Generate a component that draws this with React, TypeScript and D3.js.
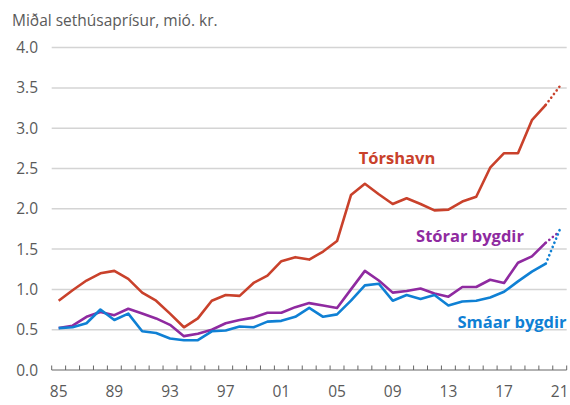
import * as d3 from 'd3';
import React from 'react';

// Miðal sethúsaprísur (mió. kr.), 1985-2021; 2021 is a projection (dotted)
const years = d3.range(1985, 2022);
const torshavn = [0.86, 0.99, 1.11, 1.20, 1.23, 1.13, 0.96, 0.86, 0.70, 0.53, 0.64, 0.86,
  0.93, 0.92, 1.08, 1.17, 1.35, 1.40, 1.37, 1.47, 1.60, 2.17, 2.31, 2.18, 2.06, 2.13, 2.06,
  1.98, 1.99, 2.09, 2.15, 2.51, 2.69, 2.69, 3.10, 3.29, 3.52];
const storar = [0.52, 0.55, 0.66, 0.72, 0.68, 0.76, 0.70, 0.64, 0.56, 0.42, 0.45, 0.50,
  0.58, 0.62, 0.65, 0.71, 0.71, 0.78, 0.83, 0.80, 0.77, 1.00, 1.23, 1.11, 0.96, 0.98, 1.01,
  0.95, 0.91, 1.03, 1.03, 1.12, 1.08, 1.33, 1.41, 1.58, 1.72];
const smaar = [0.52, 0.53, 0.58, 0.75, 0.62, 0.70, 0.48, 0.46, 0.39, 0.37, 0.37, 0.48,
  0.49, 0.54, 0.53, 0.60, 0.61, 0.66, 0.77, 0.66, 0.69, 0.86, 1.05, 1.07, 0.86, 0.93, 0.88,
  0.93, 0.80, 0.85, 0.86, 0.90, 0.97, 1.10, 1.22, 1.32, 1.74];
const yTicks = [0, 0.5, 1, 1.5, 2, 2.5, 3, 3.5, 4];
const xLabelYears = [1985, 1989, 1993, 1997, 2001, 2005, 2009, 2013, 2017, 2021];

const series = [
  { name: 'Tórshavn', values: torshavn, color: '#c9412b', label: [397, 164] },
  { name: 'Stórar bygdir', values: storar, color: '#8f2aa0', label: [470, 242] },
  { name: 'Smáar bygdir', values: smaar, color: '#0f80d4', label: [512, 328] },
];

const width = 570;
const height = 405;
const font = "'Open Sans', sans-serif";

export default function App() {
  const x = d3.scaleBand<number>().domain(years).range([51.7, 566.7]);
  const cx = (yr: number) => (x(yr) || 0) + x.bandwidth() / 2;
  const y = d3.scaleLinear().domain([0, 4]).range([370, 47.6]);
  const line = d3.line<[number, number]>().x(d => cx(d[0])).y(d => y(d[1]));
  const last = years.length - 1;
  const boundaries = years.map(yr => x(yr) || 0).concat([x.range()[1]]);

  return (
    <svg width={width} height={height} style={{ position: 'absolute', left: 0, top: 0 }}>
      <rect width={width} height={height} fill="#fff" />
      <text x={12} y={26} fontFamily={font} fontSize={15.5} fill="#5a5a5a">
        Miðal sethúsaprísur, mió. kr.
      </text>
      {yTicks.map(t => (
        <g key={t}>
          {t > 0 && (
            <line x1={x.range()[0]} x2={x.range()[1]} y1={y(t)} y2={y(t)} stroke="#d4d4d4" strokeWidth={1.5} />
          )}
          <text x={38} y={y(t) + 5.5} textAnchor="end" fontFamily={font} fontSize={15.5} fill="#5a5a5a">
            {t.toFixed(1)}
          </text>
        </g>
      ))}
      <line x1={x.range()[0]} x2={x.range()[1]} y1={y(0)} y2={y(0)} stroke="#666" strokeWidth={1} />
      {boundaries.map((b, i) => (
        <line key={i} x1={b} x2={b} y1={y(0)} y2={y(0) - 4.5} stroke="#666" strokeWidth={1} />
      ))}
      {xLabelYears.map(yr => (
        <text key={yr} x={cx(yr)} y={397} textAnchor="middle" fontFamily={font} fontSize={15.5} fill="#5a5a5a">
          {String(yr).slice(2)}
        </text>
      ))}
      {series.map(s => {
        const pts: [number, number][] = years.map((yr, i) => [yr, s.values[i]]);
        return (
          <g key={s.name}>
            <path d={line(pts.slice(0, last)) || ''} fill="none" stroke={s.color} strokeWidth={2.6} strokeLinejoin="round" />
            <path d={line(pts.slice(last - 1)) || ''} fill="none" stroke={s.color} strokeWidth={2.6}
              strokeDasharray="0.1 4.4" strokeLinecap="round" />
            <text x={s.label[0]} y={s.label[1]} textAnchor="middle" fontFamily={font} fontWeight={700}
              fontSize={16.5} fill={s.color}>
              {s.name}
            </text>
          </g>
        );
      })}
    </svg>
  );
}
